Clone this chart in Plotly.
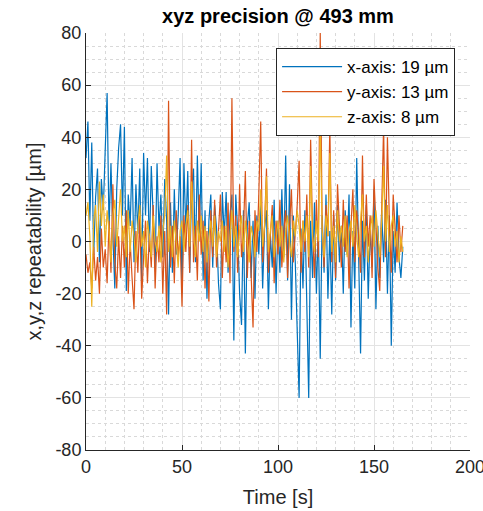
import plotly.graph_objects as go

time_s = list(range(0, 166))

x_axis = [32, 46, 8, 38, -5, 17, 28, -8, 24, 12,
          35, 57, 5, 30, 2, -18, 20, 36, 45, 10,
          44, -19, 18, 6, 32, -8, 22, 3, 28, -15,
          34, 10, 32, -4, 29, 12, -10, 30, 5, 18,
          -6, 24, 8, -28, 15, -12, 20, -5, 10, 32,
          -20, 30, 4, 27, -12, 20, 28, -8, 33, 2,
          30, -15, 12, -22, 8, 18, -10, 14, 5, -16,
          -26, 19, 2, 19, -12, 10, 18, -38, 18, 4,
          -20, -32, 12, -43, 6, 15, -14, 8, -22, 10,
          -5, 14, -18, 5, 12, -26, 3, -10, 16, -20,
          8, -12, 20, -6, 33, -15, 22, -30, 10, -8,
          -40, -60, 5, -18, 12, -25, -60, 8, -14, 15,
          -20, 6, -45, 10, -12, 18, -22, 4, -28, 10,
          -15, 14, -8, 6, -20, 12, -5, 18, -33, 4,
          -18, 32, -12, -43, 8, -15, 14, -22, 5, -10,
          20, -26, 6, -14, 12, -8, 16, -20, 10, -40,
          4, -12, 15, -6, -14, -2]

y_axis = [-5, -12, -8, -18, -2, -15, -6, -20, 5, -10,
          -3, -16, 8, -12, 22, -8, -18, 2, -14, 6,
          -10, 12, -20, 0, -14, -26, 4, -12, 10, -22,
          -6, 8, -16, 3, -10, 14, -18, 2, -8, 10,
          -20, 4, -28, 54, -10, 6, -16, 12, -6, 2,
          -25, 10, -4, 14, -12, 39, -8, 6, -15, 18,
          -5, 8, -18, 4, -23, 12, -6, 16, -10, 2,
          18, -14, 6, -8, 15, -16, 55, -4, 10, -12,
          22, -6, 4, 27, -14, 8, -10, -33, 12, -4,
          18, 46, -8, 6, 28, -12, 2, 14, -16, 8,
          -5, 16, -10, 4, 12, -14, 6, 20, -8, 2,
          14, 31, -12, 8, -4, 18, -10, 39, 4, -14,
          16, -6, 80, 6, -10, 14, 2, 44, -8, 12,
          -14, 22, 4, -10, 16, -4, 10, -18, 6, 20,
          -8, 12, 2, -12, 33, -6, 18, -2, 10, -14,
          24, 4, -10, -19, 14, 44, -6, 40, 8, -12,
          18, 2, -8, 10, -4, 6]

z_axis = [10, 15, 2, -25, 8, 14, -4, 23, 6, 18,
          -2, 12, 4, -8, 10, 16, -2, 8, 20, 0,
          6, -6, 12, -4, 8, 2, -8, 6, 14, -2,
          4, -10, 8, 2, -6, 10, 0, -4, 6, -8,
          4, 10, 33, -4, 6, -6, 8, 0, -10, 4,
          8, -4, 6, 12, -2, 23, 4, -6, 8, 0,
          10, -4, 6, -8, 2, 8, -2, 10, -6, 4,
          0, 8, -4, 6, -10, 2, 12, -2, 6, -6,
          4, 10, -4, 8, 0, -8, 6, 2, -6, 8,
          4, 20, -2, 6, 25, -4, 4, 10, -6, 2,
          8, -2, 6, -8, 4, 10, 0, -6, 8, 2,
          12, 6, -4, 8, 0, 10, -6, 29, 2, -4,
          8, 0, 45, 4, -6, 10, 2, 34, -4, 6,
          -8, 12, 0, 6, -2, 10, -6, 4, 8, -2,
          14, 2, -6, 8, 18, 0, 6, -8, 4, 10,
          -2, 12, 2, -6, 8, 29, 0, 14, -4, 6,
          10, -2, 4, -8, 2, -4]

series_names = ["x-axis: 19 µm", "y-axis: 13 µm", "z-axis: 8 µm"]
series_colors = ["#0072BD", "#D95319", "#EDB120"]

x_ticks = [0, 50, 100, 150, 200]
y_ticks = [-80, -60, -40, -20, 0, 20, 40, 60, 80]

FONT = "Liberation Sans, Arial, Helvetica, sans-serif"
TXT = "#262626"

fig = go.Figure()
for vals, name, col in zip([x_axis, y_axis, z_axis], series_names, series_colors):
    fig.add_trace(go.Scatter(x=time_s, y=vals, mode="lines", name=name,
                             line=dict(color=col, width=1.2)))

axis_common = dict(
    showline=True, linecolor=TXT, linewidth=1, mirror=False,
    ticks="inside", ticklen=5, tickcolor=TXT, tickwidth=1,
    showgrid=True, gridcolor="#e3e3e3", gridwidth=1,
    zeroline=False, automargin=False,
    tickfont=dict(family=FONT, size=18, color=TXT),
)

fig.update_xaxes(
    range=[0, 200], tickvals=x_ticks, ticktext=[str(v) for v in x_ticks],
    ticklabeloverflow="allow",
    title=dict(text="Time [s]", font=dict(family=FONT, size=20, color=TXT), standoff=14),
    minor=dict(dtick=10, tick0=0, showgrid=True, gridcolor="#d9d9d9", griddash="dot", gridwidth=1, ticks=""),
    **axis_common,
)
fig.update_yaxes(
    range=[-80, 80], tickvals=y_ticks, ticktext=[str(v) for v in y_ticks],
    title=dict(text="x,y,z repeatability [µm]", font=dict(family=FONT, size=20, color=TXT), standoff=8),
    minor=dict(dtick=5, tick0=0, showgrid=True, gridcolor="#d9d9d9", griddash="dot", gridwidth=1, ticks=""),
    **axis_common,
)

fig.update_layout(
    width=483, height=511,
    margin=dict(l=86, r=13, t=33, b=61),
    paper_bgcolor="white", plot_bgcolor="white",
    title=dict(text="<b>xyz precision @ 493 mm</b>", x=(86 + 470) / 2 / 483, xanchor="center",
               y=1 - 16 / 511, yanchor="middle",
               font=dict(family=FONT, size=20, color="black")),
    showlegend=True,
    legend=dict(x=0.495, y=0.964, xanchor="left", yanchor="top",
                bgcolor="white", bordercolor=TXT, borderwidth=1,
                font=dict(family=FONT, size=17, color="black"),
                itemwidth=60, tracegroupgap=0),
)

fig.write_html("out.html")
